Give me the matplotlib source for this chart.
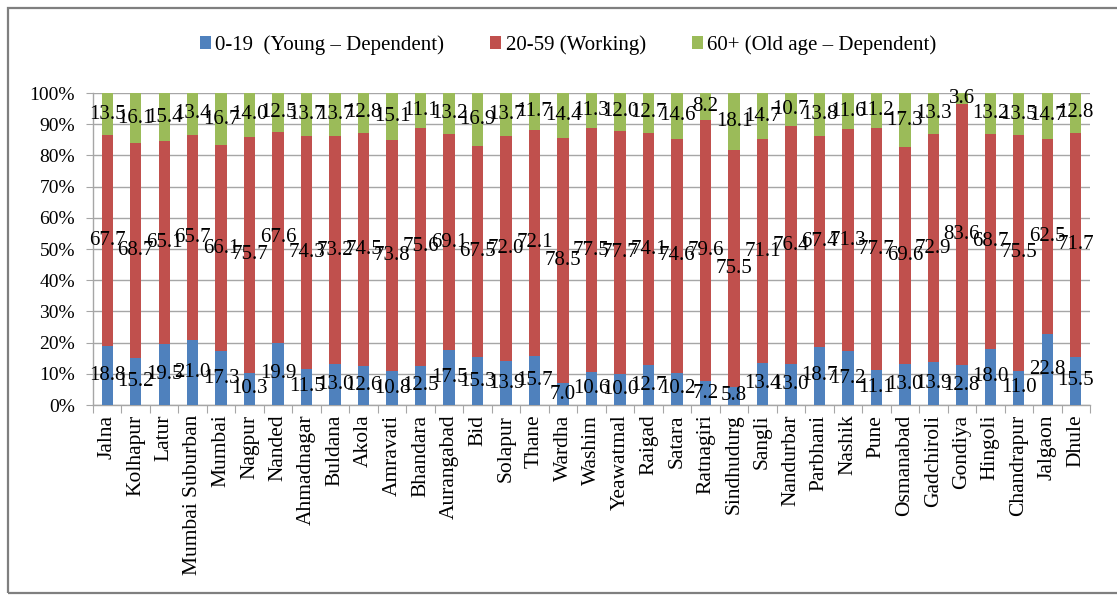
import matplotlib
matplotlib.use("Agg")
import matplotlib.pyplot as plt
import numpy as np
from matplotlib.patches import Rectangle

districts = ["Jalna", "Kolhapur", "Latur", "Mumbai Suburban", "Mumbai", "Nagpur", "Nanded",
             "Ahmadnagar", "Buldana", "Akola", "Amravati", "Bhandara", "Aurangabad", "Bid",
             "Solapur", "Thane", "Wardha", "Washim", "Yeawatmal", "Raigad", "Satara",
             "Ratnagiri", "Sindhudurg", "Sangli", "Nandurbar", "Parbhani", "Nashik", "Pune",
             "Osmanabad", "Gadchiroli", "Gondiya", "Hingoli", "Chandrapur", "Jalgaon", "Dhule"]
young = [18.8, 15.2, 19.5, 21.0, 17.3, 10.3, 19.9, 11.5, 13.0, 12.6, 10.8, 12.5, 17.5, 15.3,
         13.9, 15.7, 7.0, 10.6, 10.0, 12.7, 10.2, 7.2, 5.8, 13.4, 13.0, 18.7, 17.2, 11.1,
         13.0, 13.9, 12.8, 18.0, 11.0, 22.8, 15.5]
working = [67.7, 68.7, 65.1, 65.7, 66.1, 75.7, 67.6, 74.3, 73.2, 74.5, 73.8, 75.6, 69.1, 67.5,
           72.0, 72.1, 78.5, 77.5, 77.7, 74.1, 74.6, 79.6, 75.5, 71.1, 76.4, 67.4, 71.3, 77.7,
           69.6, 72.9, 83.6, 68.7, 75.5, 62.5, 71.7]
old = [13.5, 16.1, 15.4, 13.4, 16.7, 14.0, 12.5, 13.7, 13.7, 12.8, 15.1, 11.1, 13.2, 16.9,
       13.7, 11.7, 14.4, 11.3, 12.0, 12.7, 14.6, 8.2, 18.1, 14.7, 10.7, 13.8, 11.6, 11.2,
       17.3, 13.3, 3.6, 13.2, 13.5, 14.7, 12.8]
series_names = ["0-19  (Young \u2013 Dependent)", "20-59 (Working)", "60+ (Old age \u2013 Dependent)"]
colors = ["#4F81BD", "#C0504D", "#9BBB59"]
yticks = [0, 10, 20, 30, 40, 50, 60, 70, 80, 90, 100]

plt.rcParams['font.family'] = ['Liberation Serif', 'DejaVu Serif']

W, H = 1117, 595
fig = plt.figure(figsize=(W / 100, H / 100), dpi=100)
fig.patches.append(Rectangle((8 / W, 2 / H), 1.2, (593 - 8) / H, transform=fig.transFigure,
                             fill=False, edgecolor="#7f7f7f", linewidth=1.6))

ax = fig.add_axes([93 / W, (595 - 405) / H, (1090 - 93) / W, (405 - 93) / H])

data = np.array([young, working, old], dtype=float)
totals = data.sum(axis=0)
pct = data / totals * 100
x = np.arange(len(districts))
bottom = np.zeros(len(districts))
for k in range(3):
    ax.bar(x, pct[k], 0.4, bottom=bottom, color=colors[k], label=series_names[k], zorder=3)
    for i in range(len(districts)):
        ax.text(x[i], bottom[i] + pct[k][i] / 2, f"{data[k][i]:.1f}", ha="center", va="center",
                fontsize=15, color="black", zorder=5)
    bottom += pct[k]

ax.set_xlim(-0.5, len(districts) - 0.5)
ax.set_ylim(0, 100)
ax.set_yticks(yticks)
ax.set_yticklabels([f"{v}%" for v in yticks], fontsize=14)
ax.yaxis.grid(True, color="#a6a6a6", linewidth=1.0, zorder=0)
ax.tick_params(axis="y", length=5, color="#a6a6a6", pad=8)

ax.set_xticks(np.arange(len(districts) + 1) - 0.5)
ax.set_xticklabels([])
ax.tick_params(axis="x", which="major", length=6, color="#a6a6a6")
ax.set_xticks(x, minor=True)
ax.set_xticklabels(districts, minor=True, rotation=90, fontsize=15.5)
ax.tick_params(axis="x", which="minor", length=0, pad=7)

for s in ["top", "right"]:
    ax.spines[s].set_visible(False)
for s in ["left", "bottom"]:
    ax.spines[s].set_color("#a6a6a6")
    ax.spines[s].set_linewidth(1.0)

leg = fig.legend(loc="center", bbox_to_anchor=(568 / W, 1 - 45 / H), ncol=3, frameon=False,
                 fontsize=15, handlelength=0.55, handleheight=0.55, handletextpad=0.2,
                 columnspacing=2.2)

fig.savefig("out.png", dpi=100)
